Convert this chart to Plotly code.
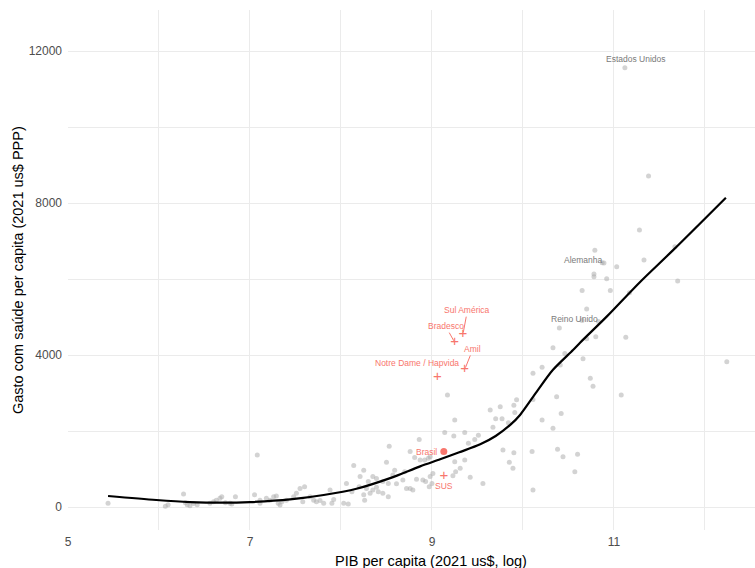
import plotly.graph_objects as go

# Gray country points: log GDP per capita (x) vs health spending per capita (y)
pib_log = [5.44, 6.07, 6.10, 6.27, 6.29, 6.31, 6.34, 6.38, 6.42, 6.56, 6.60, 6.63, 6.67, 6.69,
           6.73, 6.78, 6.80, 6.84, 7.05, 7.08, 7.11, 7.11, 7.18, 7.22, 7.26, 7.29, 7.31, 7.33,
           7.35, 7.40, 7.48, 7.51, 7.55, 7.58, 7.60, 7.66, 7.70, 7.73, 7.77, 7.81, 7.88, 7.90,
           7.92, 8.03, 8.08, 8.06, 8.12, 8.14, 8.20, 8.21, 8.25, 8.25, 8.26, 8.28, 8.30, 8.32,
           8.35, 8.35, 8.39, 8.39, 8.41, 8.46, 8.46, 8.50, 8.52, 8.52, 8.53, 8.57, 8.59, 8.61,
           8.68, 8.76, 8.76, 8.79, 8.81, 8.83, 8.86, 8.87, 8.90, 8.92, 8.93, 8.96, 8.97, 8.98,
           8.98, 8.70, 9.01, 9.00, 8.72,
           9.17, 9.25, 9.14, 9.36, 9.24, 9.51, 9.47, 9.40, 9.36, 9.25, 9.31, 9.26, 9.23, 9.42,
           9.56, 9.64, 9.75, 9.90, 9.93, 9.70, 9.77, 9.67, 9.84, 9.91, 9.78, 9.90, 9.85, 9.89,
           10.10, 10.11, 10.21, 10.41, 10.37, 10.11, 10.42, 10.21, 10.33, 10.38, 10.44, 10.60,
           10.57, 10.11, 10.46, 10.66, 10.33, 10.74, 10.77, 11.08, 12.24, 10.40, 10.70, 10.80,
           11.13, 10.65, 10.83, 10.70, 10.65, 10.96, 11.17, 10.78, 10.78, 10.92, 10.79, 10.87,
           10.89, 11.03, 11.33, 11.67, 11.70, 11.28, 11.38, 11.12]
gasto = [100, 20, 60, 340, 110, 60, 30, 90, 60, 100, 140, 180, 230, 270,
         110, 100, 80, 270, 320, 1370, 100, 180, 230, 180, 270, 290, 100, 50,
         140, 180, 270, 360, 490, 140, 530, 270, 180, 140, 170, 100, 450, 100,
         200, 100, 80, 620, 400, 1090, 530, 800, 320, 970, 180, 490, 670, 360,
         450, 800, 750, 520, 400, 360, 670, 1180, 270, 620, 1600, 840, 970, 610,
         710, 1460, 490, 450, 1300, 730, 1780, 1240, 710, 1240, 670, 1280, 530, 1320,
         800, 930, 880, 620, 490,
         2950, 2290, 1960, 1960, 1870, 1890, 1780, 1680, 1240, 1190, 1020, 930, 820, 780,
         620, 2550, 2640, 2680, 2820, 2320, 2320, 2100, 2220, 2490, 1500, 1430, 1180, 1020,
         1460, 3520, 3680, 3740, 2900, 2830, 2460, 2290, 2070, 1520, 1320, 1390,
         930, 450, 4040, 3900, 4190, 3390, 3180, 2950, 3820, 4710, 4430, 4480,
         4470, 4910, 4880, 5210, 5700, 5700, 5640, 6130, 6060, 6010, 6760, 6430,
         6420, 6320, 6500, 6850, 5950, 7290, 8710, 11560]

# Smoothed (loess) curve
curva_x = [5.44, 5.97, 6.34, 6.71, 7.00, 7.44, 7.81, 8.17, 8.54, 8.87, 9.09, 9.30, 9.53, 9.70,
           9.86, 9.97, 10.15, 10.33, 10.55, 10.63, 10.92, 11.29, 11.65, 12.23]
curva_y = [290, 184, 130, 113, 130, 200, 316, 480, 760, 1070, 1255, 1440, 1650, 1870,
           2160, 2430, 3030, 3610, 4130, 4330, 5010, 5930, 6760, 8140]

# Labelled countries (gray)
paises = ["Estados Unidos", "Alemanha", "Reino Unido"]
paises_lx = [11.24, 10.66, 10.57]
paises_ly = [11790, 6500, 4960]

# Brazilian plans / systems (red)
planos = ["Sul América", "Bradesco", "Amil", "Notre Dame / Hapvida", "SUS"]
planos_x = [9.34, 9.25, 9.36, 9.06, 9.13]
planos_y = [4540, 4330, 3620, 3410, 800]
planos_lx = [9.39, 9.15, 9.45, 8.83, 9.13]
planos_ly = [5180, 4760, 4160, 3780, 560]
planos_seta = [True, True, True, False, False]

brasil_x = [9.13]
brasil_y = [1460]
brasil_lx = [8.94]
brasil_ly = [1440]

x_ticks = [5, 7, 9, 11]
x_minor = [6, 8, 10, 12]
y_ticks = [0, 4000, 8000, 12000]
y_minor = [2000, 6000, 10000]

RED = "#F8766D"
GRID = "#EBEBEB"

fig = go.Figure()
fig.add_trace(go.Scatter(x=pib_log, y=gasto, mode="markers",
                         marker=dict(size=5, color="rgba(175,175,175,0.55)", line=dict(width=0)),
                         hoverinfo="skip", showlegend=False))
fig.add_trace(go.Scatter(x=curva_x, y=curva_y, mode="lines",
                         line=dict(color="black", width=2.2, shape="spline", smoothing=0.8),
                         hoverinfo="skip", showlegend=False))
# plus symbols for the plans (drawn as text glyphs)
fig.add_trace(go.Scatter(x=planos_x, y=planos_y, mode="text", text=["+"] * len(planos_x),
                         textposition="middle center",
                         textfont=dict(size=15, color=RED, family="DejaVu Sans ExtraLight, Liberation Sans"),
                         hoverinfo="skip", showlegend=False))
fig.add_trace(go.Scatter(x=brasil_x, y=brasil_y, mode="markers",
                         marker=dict(size=7, color=RED),
                         hoverinfo="skip", showlegend=False))

ann = []
for t, lx, ly in zip(paises, paises_lx, paises_ly):
    ann.append(dict(x=lx, y=ly, text=t, showarrow=False, xref="x", yref="y",
                    font=dict(size=8.5, color="#7A7A7A", family="Liberation Sans")))
for t, px, py, lx, ly, s in zip(planos, planos_x, planos_y, planos_lx, planos_ly, planos_seta):
    if s:
        ann.append(dict(x=px, y=py, ax=lx, ay=ly, axref="x", ayref="y", xref="x", yref="y",
                        text=t, showarrow=True, arrowhead=0, arrowwidth=1, arrowcolor=RED,
                        standoff=2, font=dict(size=8.5, color=RED, family="Liberation Sans")))
    else:
        ann.append(dict(x=lx, y=ly, text=t, showarrow=False, xref="x", yref="y",
                        font=dict(size=8.5, color=RED, family="Liberation Sans")))
for lx, ly in zip(brasil_lx, brasil_ly):
    ann.append(dict(x=lx, y=ly, text="Brasil", showarrow=False, xref="x", yref="y",
                    font=dict(size=8.5, color=RED, family="Liberation Sans")))

ann.append(dict(text="PIB per capita (2021 us$, log)", xref="paper", yref="paper",
                x=0.528, y=0, yshift=-31, xanchor="center", yanchor="middle", showarrow=False,
                font=dict(size=14.5, color="black", family="Liberation Sans")))
ann.append(dict(text="Gasto com saúde per capita (2021 us$ PPP)", xref="paper", yref="paper",
                x=0, y=0.5, xshift=-50, xanchor="center", yanchor="middle", textangle=-90,
                showarrow=False, font=dict(size=14.5, color="black", family="Liberation Sans")))

fig.update_layout(
    width=755, height=568,
    margin=dict(l=68, r=0, t=10, b=38),
    plot_bgcolor="white", paper_bgcolor="white",
    font=dict(family="Liberation Sans", size=12, color="#4D4D4D"),
    annotations=ann,
    xaxis=dict(range=[5, 12.55], tickmode="array", tickvals=x_ticks, ticktext=[str(v) for v in x_ticks],
               showgrid=True, gridcolor=GRID, gridwidth=1, zeroline=False, showline=False,
               ticks="", ticklabelstandoff=3, tickfont=dict(size=12, color="#4D4D4D"),
               minor=dict(tickmode="array", tickvals=x_minor, showgrid=True, gridcolor=GRID, gridwidth=1)),
    yaxis=dict(range=[-605, 13080], tickmode="array", tickvals=y_ticks, ticktext=[str(v) for v in y_ticks],
               showgrid=True, gridcolor=GRID, gridwidth=1, zeroline=False, showline=False,
               ticks="", ticklabelstandoff=5, tickfont=dict(size=12, color="#4D4D4D"),
               minor=dict(tickmode="array", tickvals=y_minor, showgrid=True, gridcolor=GRID, gridwidth=1)),
)

fig.write_html("out.html")
